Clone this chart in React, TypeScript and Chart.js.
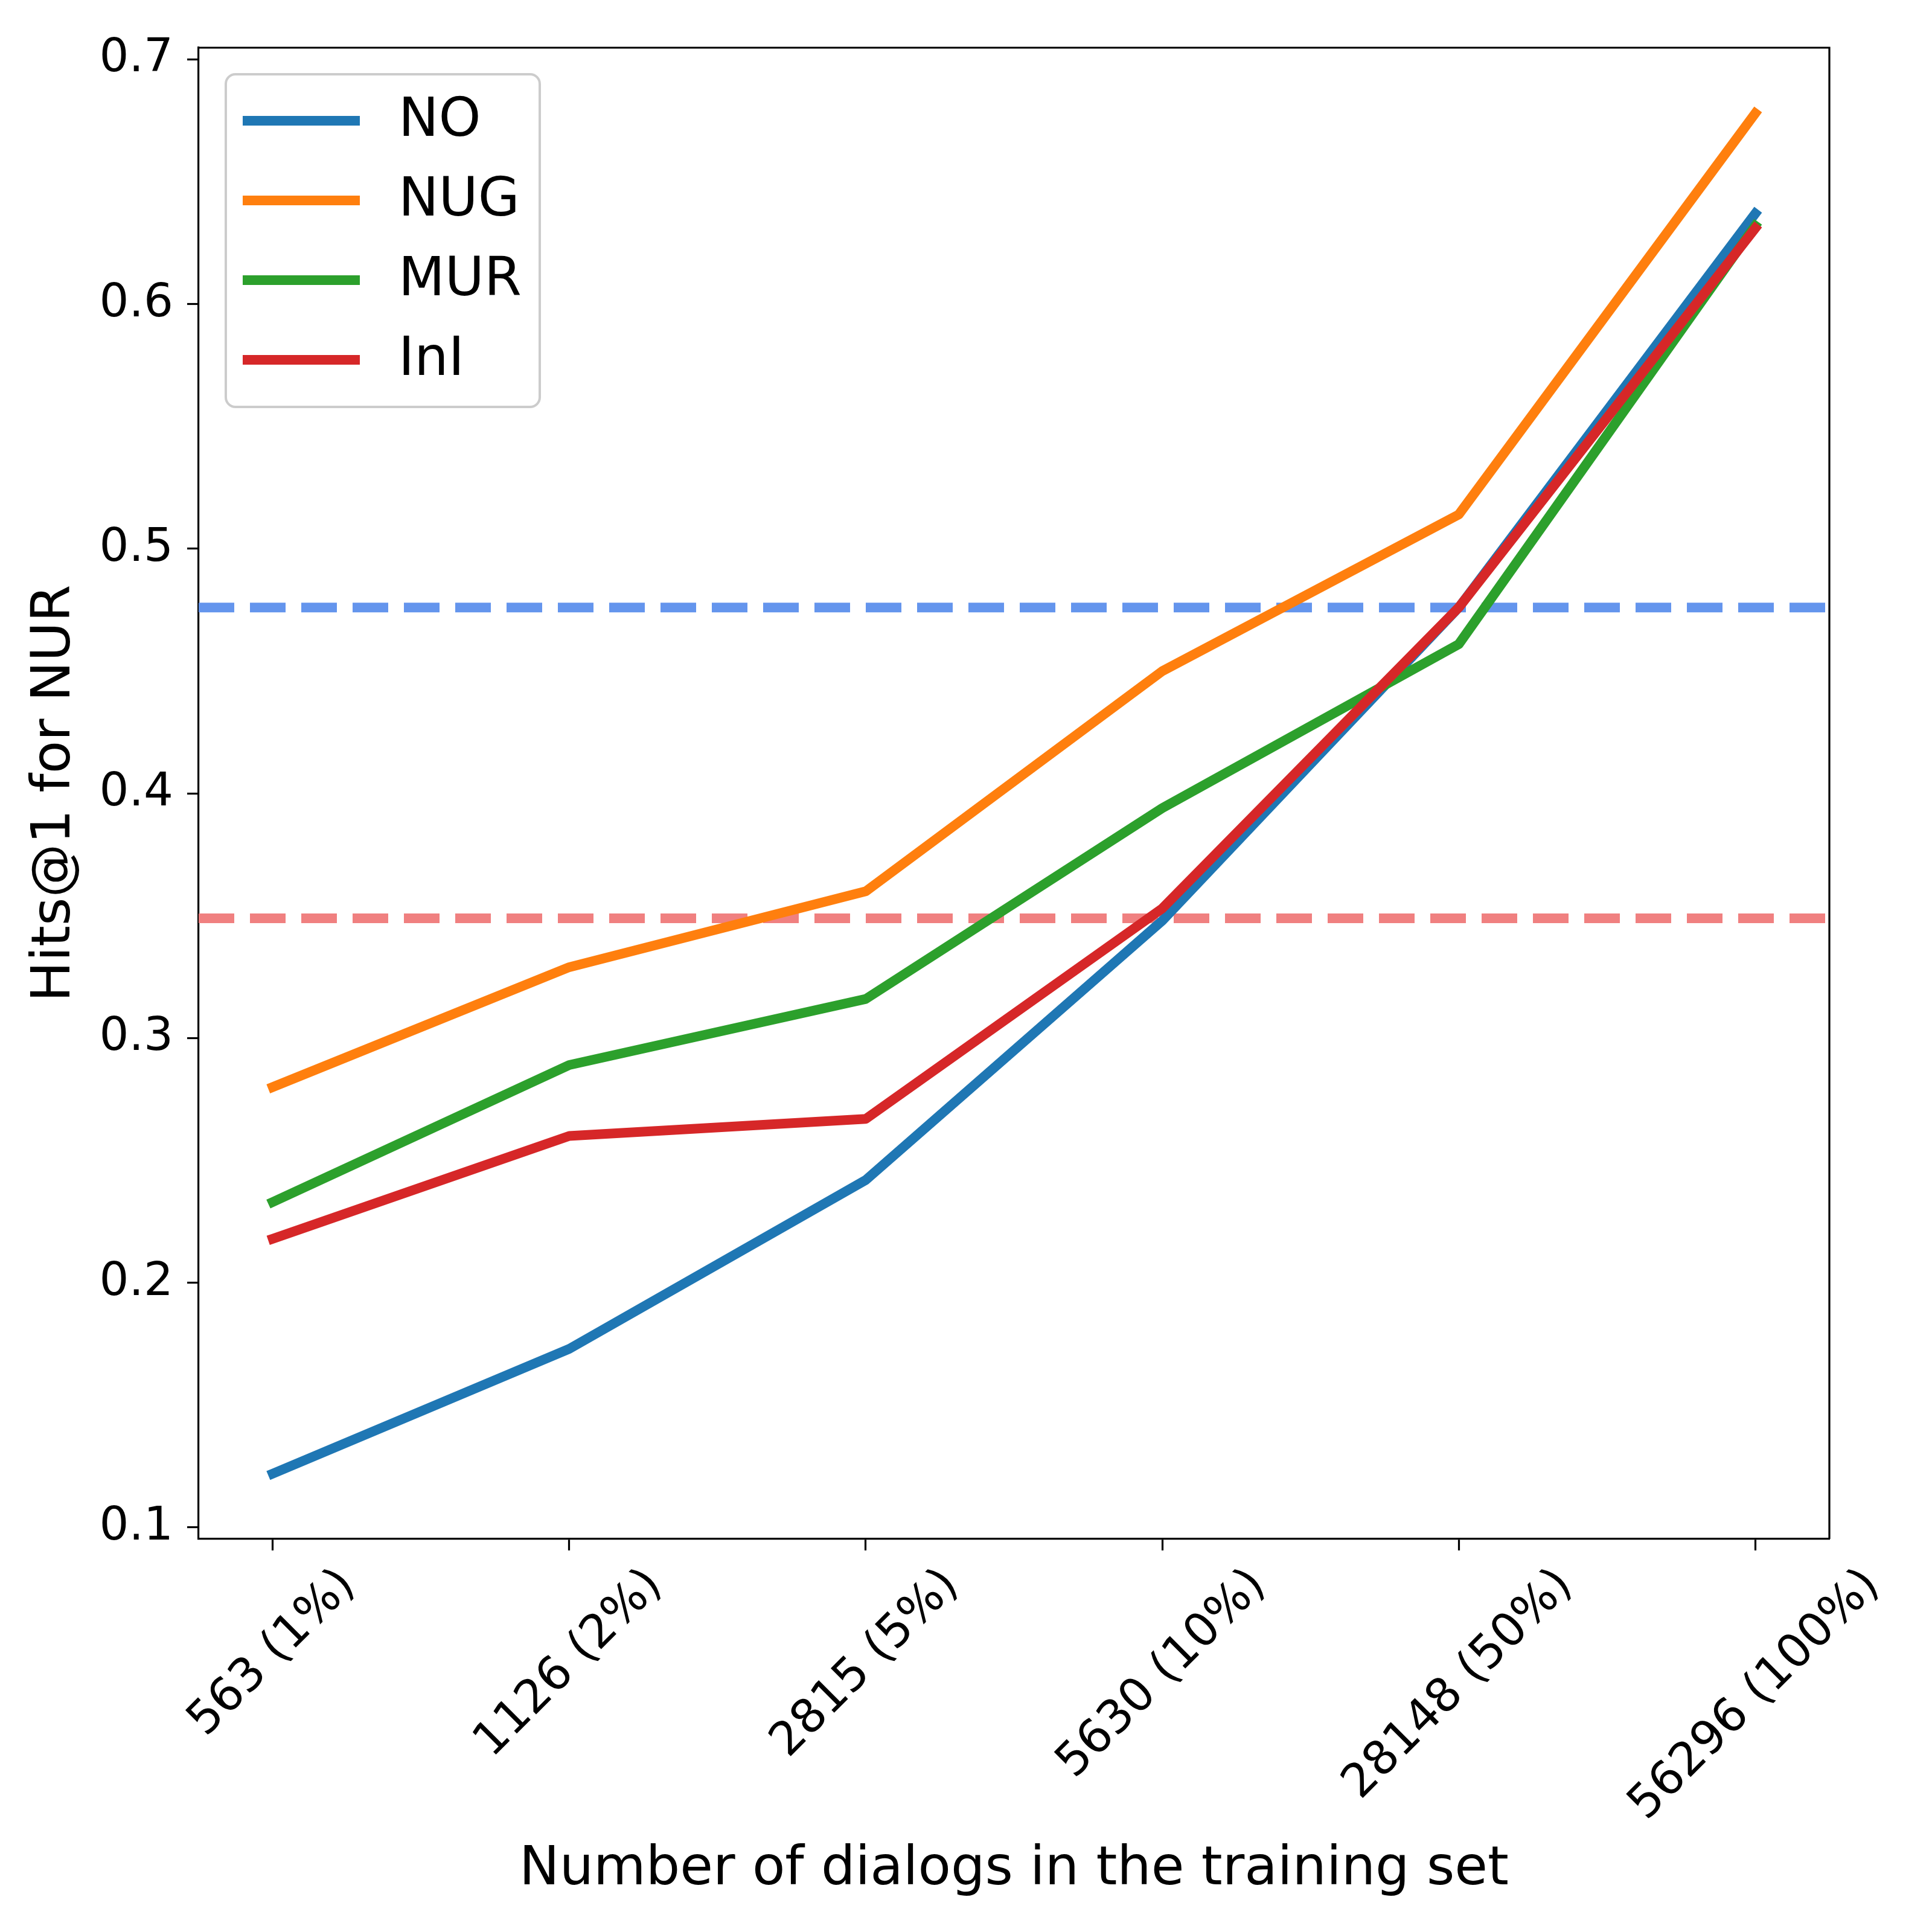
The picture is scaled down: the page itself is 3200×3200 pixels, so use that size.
import React, { useEffect, useRef } from 'react';
import { Chart, registerables } from 'chart.js';

Chart.register(...registerables);

// x categories (dialog counts) and series
const xLabels = ['563 (1%)', '1126 (2%)', '2815 (5%)', '5630 (10%)', '28148 (50%)', '56296 (100%)'];
const seriesNames = ['NO', 'NUG', 'MUR', 'InI'];
const seriesColors = ['#1f77b4', '#ff7f0e', '#2ca02c', '#d62728'];
const noValues = [0.122, 0.173, 0.242, 0.348, 0.476, 0.637];
const nugValues = [0.280, 0.329, 0.360, 0.450, 0.514, 0.678];
const murValues = [0.233, 0.289, 0.316, 0.394, 0.461, 0.632];
const iniValues = [0.218, 0.260, 0.267, 0.353, 0.476, 0.631];

// horizontal reference lines
const baselineBlue = 0.476;
const baselineRed = 0.349;

const yTicks = [0.1, 0.2, 0.3, 0.4, 0.5, 0.6, 0.7];
const xMin = -0.25;
const xMax = 5.25;
const yMin = 0.0953;
const yMax = 0.7048;

const FONT = '"DejaVu Sans", sans-serif';
const TICK_SIZE = 77;
const LABEL_SIZE = 89;

// matplotlib style: rotated tick labels centred under the tick
const mplTickLabels = {
    id: 'mplTickLabels',
    beforeDraw(chart: any) {
        const scale = chart.scales.x;
        if (!scale || !scale.getLabelItems) return;
        const items = scale.getLabelItems(chart.chartArea);
        const ctx = chart.ctx;
        ctx.save();
        items.forEach((item: any, i: number) => {
            ctx.font = item.font.string;
            const w = ctx.measureText(String(item.label)).width;
            const h = item.font.size * 1.17;
            const boxH = (w + h) * Math.SQRT1_2;
            const x = scale.getPixelForTick(i);
            const top = scale.top + 19 + 14;
            item.options.translation = [x, top + boxH / 2];
            item.options.textAlign = 'center';
            item.options.textBaseline = 'middle';
            item.textOffset = 0;
        });
        ctx.restore();
    },
};

// top / right spines + legend box
const mplFrame = {
    id: 'mplFrame',
    afterDatasetsDraw(chart: any) {
        const { ctx, chartArea: ca } = chart;
        ctx.save();
        ctx.strokeStyle = '#000';
        ctx.lineWidth = 3.2;
        ctx.beginPath();
        ctx.moveTo(ca.left, ca.top);
        ctx.lineTo(ca.right, ca.top);
        ctx.lineTo(ca.right, ca.bottom);
        ctx.stroke();

        const lx = ca.left + 45;
        const ly = ca.top + 44;
        const lw = 520;
        const lh = 551;
        const r = 16;
        ctx.beginPath();
        ctx.moveTo(lx + r, ly);
        ctx.arcTo(lx + lw, ly, lx + lw, ly + lh, r);
        ctx.arcTo(lx + lw, ly + lh, lx, ly + lh, r);
        ctx.arcTo(lx, ly + lh, lx, ly, r);
        ctx.arcTo(lx, ly, lx + lw, ly, r);
        ctx.closePath();
        ctx.fillStyle = 'rgba(255,255,255,0.8)';
        ctx.fill();
        ctx.strokeStyle = '#cccccc';
        ctx.lineWidth = 4;
        ctx.stroke();

        ctx.font = `${LABEL_SIZE}px ${FONT}`;
        ctx.textAlign = 'left';
        ctx.textBaseline = 'middle';
        seriesNames.forEach((name, i) => {
            const y = ly + 77 + i * 132;
            ctx.strokeStyle = seriesColors[i];
            ctx.lineWidth = 16;
            ctx.lineCap = 'butt';
            ctx.beginPath();
            ctx.moveTo(lx + 28, y);
            ctx.lineTo(lx + 222, y);
            ctx.stroke();
            ctx.fillStyle = '#000';
            ctx.fillText(name, lx + 286, y + 2);
        });
        ctx.restore();
    },
};

const App: React.FC = () => {
    const chartRef = useRef<HTMLCanvasElement>(null);

    useEffect(() => {
        if (!chartRef.current) return;

        const allSeries = [noValues, nugValues, murValues, iniValues];
        const lineSets = allSeries.map((vals, i) => ({
            label: seriesNames[i],
            data: vals.map((y, j) => ({ x: j, y })),
            borderColor: seriesColors[i],
            backgroundColor: seriesColors[i],
            borderWidth: 16,
            pointRadius: 0,
            fill: false,
            tension: 0,
            borderCapStyle: 'square' as const,
            borderJoinStyle: 'round' as const,
            order: 4 - i,
        }));

        const dashSets = [
            { label: 'baseline-blue', value: baselineBlue, color: '#6495ed' },
            { label: 'baseline-red', value: baselineRed, color: '#f08080' },
        ].map((d, i) => ({
            label: d.label,
            data: [{ x: xMin, y: d.value }, { x: xMax, y: d.value }],
            borderColor: d.color,
            borderWidth: 16,
            borderDash: [59, 26],
            borderCapStyle: 'butt' as const,
            pointRadius: 0,
            fill: false,
            order: 10 + i,
        }));

        const tickStyle = {
            display: true,
            drawOnChartArea: false,
            drawTicks: true,
            tickLength: 19,
            tickColor: '#000',
            tickWidth: 3.2,
        };

        const myChart = new Chart(chartRef.current, {
            type: 'line',
            data: { datasets: [...lineSets, ...dashSets] as any },
            options: {
                animation: false,
                responsive: false,
                devicePixelRatio: 1,
                layout: { padding: { left: 0, top: 79, right: 170, bottom: 0 } },
                plugins: {
                    legend: { display: false },
                    tooltip: { enabled: false },
                },
                scales: {
                    x: {
                        type: 'linear',
                        min: xMin,
                        max: xMax,
                        afterBuildTicks: (s: any) => {
                            s.ticks = xLabels.map((_, i) => ({ value: i }));
                        },
                        afterFit: (s: any) => {
                            s.height = 651;
                            s.paddingLeft = 0;
                            s.paddingRight = 0;
                        },
                        ticks: {
                            callback: (v: any) => xLabels[v] ?? '',
                            font: { family: FONT, size: TICK_SIZE },
                            color: '#000',
                            minRotation: 45,
                            maxRotation: 45,
                            autoSkip: false,
                            padding: 14,
                        },
                        grid: tickStyle,
                        border: { display: true, color: '#000', width: 3.2 },
                        title: {
                            display: true,
                            text: 'Number of dialogs in the training set',
                            font: { family: FONT, size: LABEL_SIZE, lineHeight: 1.2 },
                            color: '#000',
                            padding: { top: 0, bottom: 49 },
                        },
                    },
                    y: {
                        type: 'linear',
                        min: yMin,
                        max: yMax,
                        afterBuildTicks: (s: any) => {
                            s.ticks = yTicks.map(v => ({ value: v }));
                        },
                        afterFit: (s: any) => {
                            s.width = 329;
                        },
                        ticks: {
                            callback: (v: any) => Number(v).toFixed(1),
                            font: { family: FONT, size: TICK_SIZE },
                            color: '#000',
                            padding: 23,
                        },
                        grid: tickStyle,
                        border: { display: true, color: '#000', width: 3.2 },
                        title: {
                            display: true,
                            text: 'Hits@1 for NUR',
                            font: { family: FONT, size: LABEL_SIZE, lineHeight: 1.2 },
                            color: '#000',
                            padding: { top: 38, bottom: 0 },
                        },
                    },
                },
            },
            plugins: [mplTickLabels, mplFrame],
        });

        return () => {
            myChart.destroy(); // Clean up
        };
    }, []);

    return (
        <div style={{ position: 'absolute', left: 0, top: 0, width: 3200, height: 3200, background: '#fff' }}>
            <canvas ref={chartRef} width={3200} height={3200} style={{ display: 'block' }} />
        </div>
    );
};

export default App;
